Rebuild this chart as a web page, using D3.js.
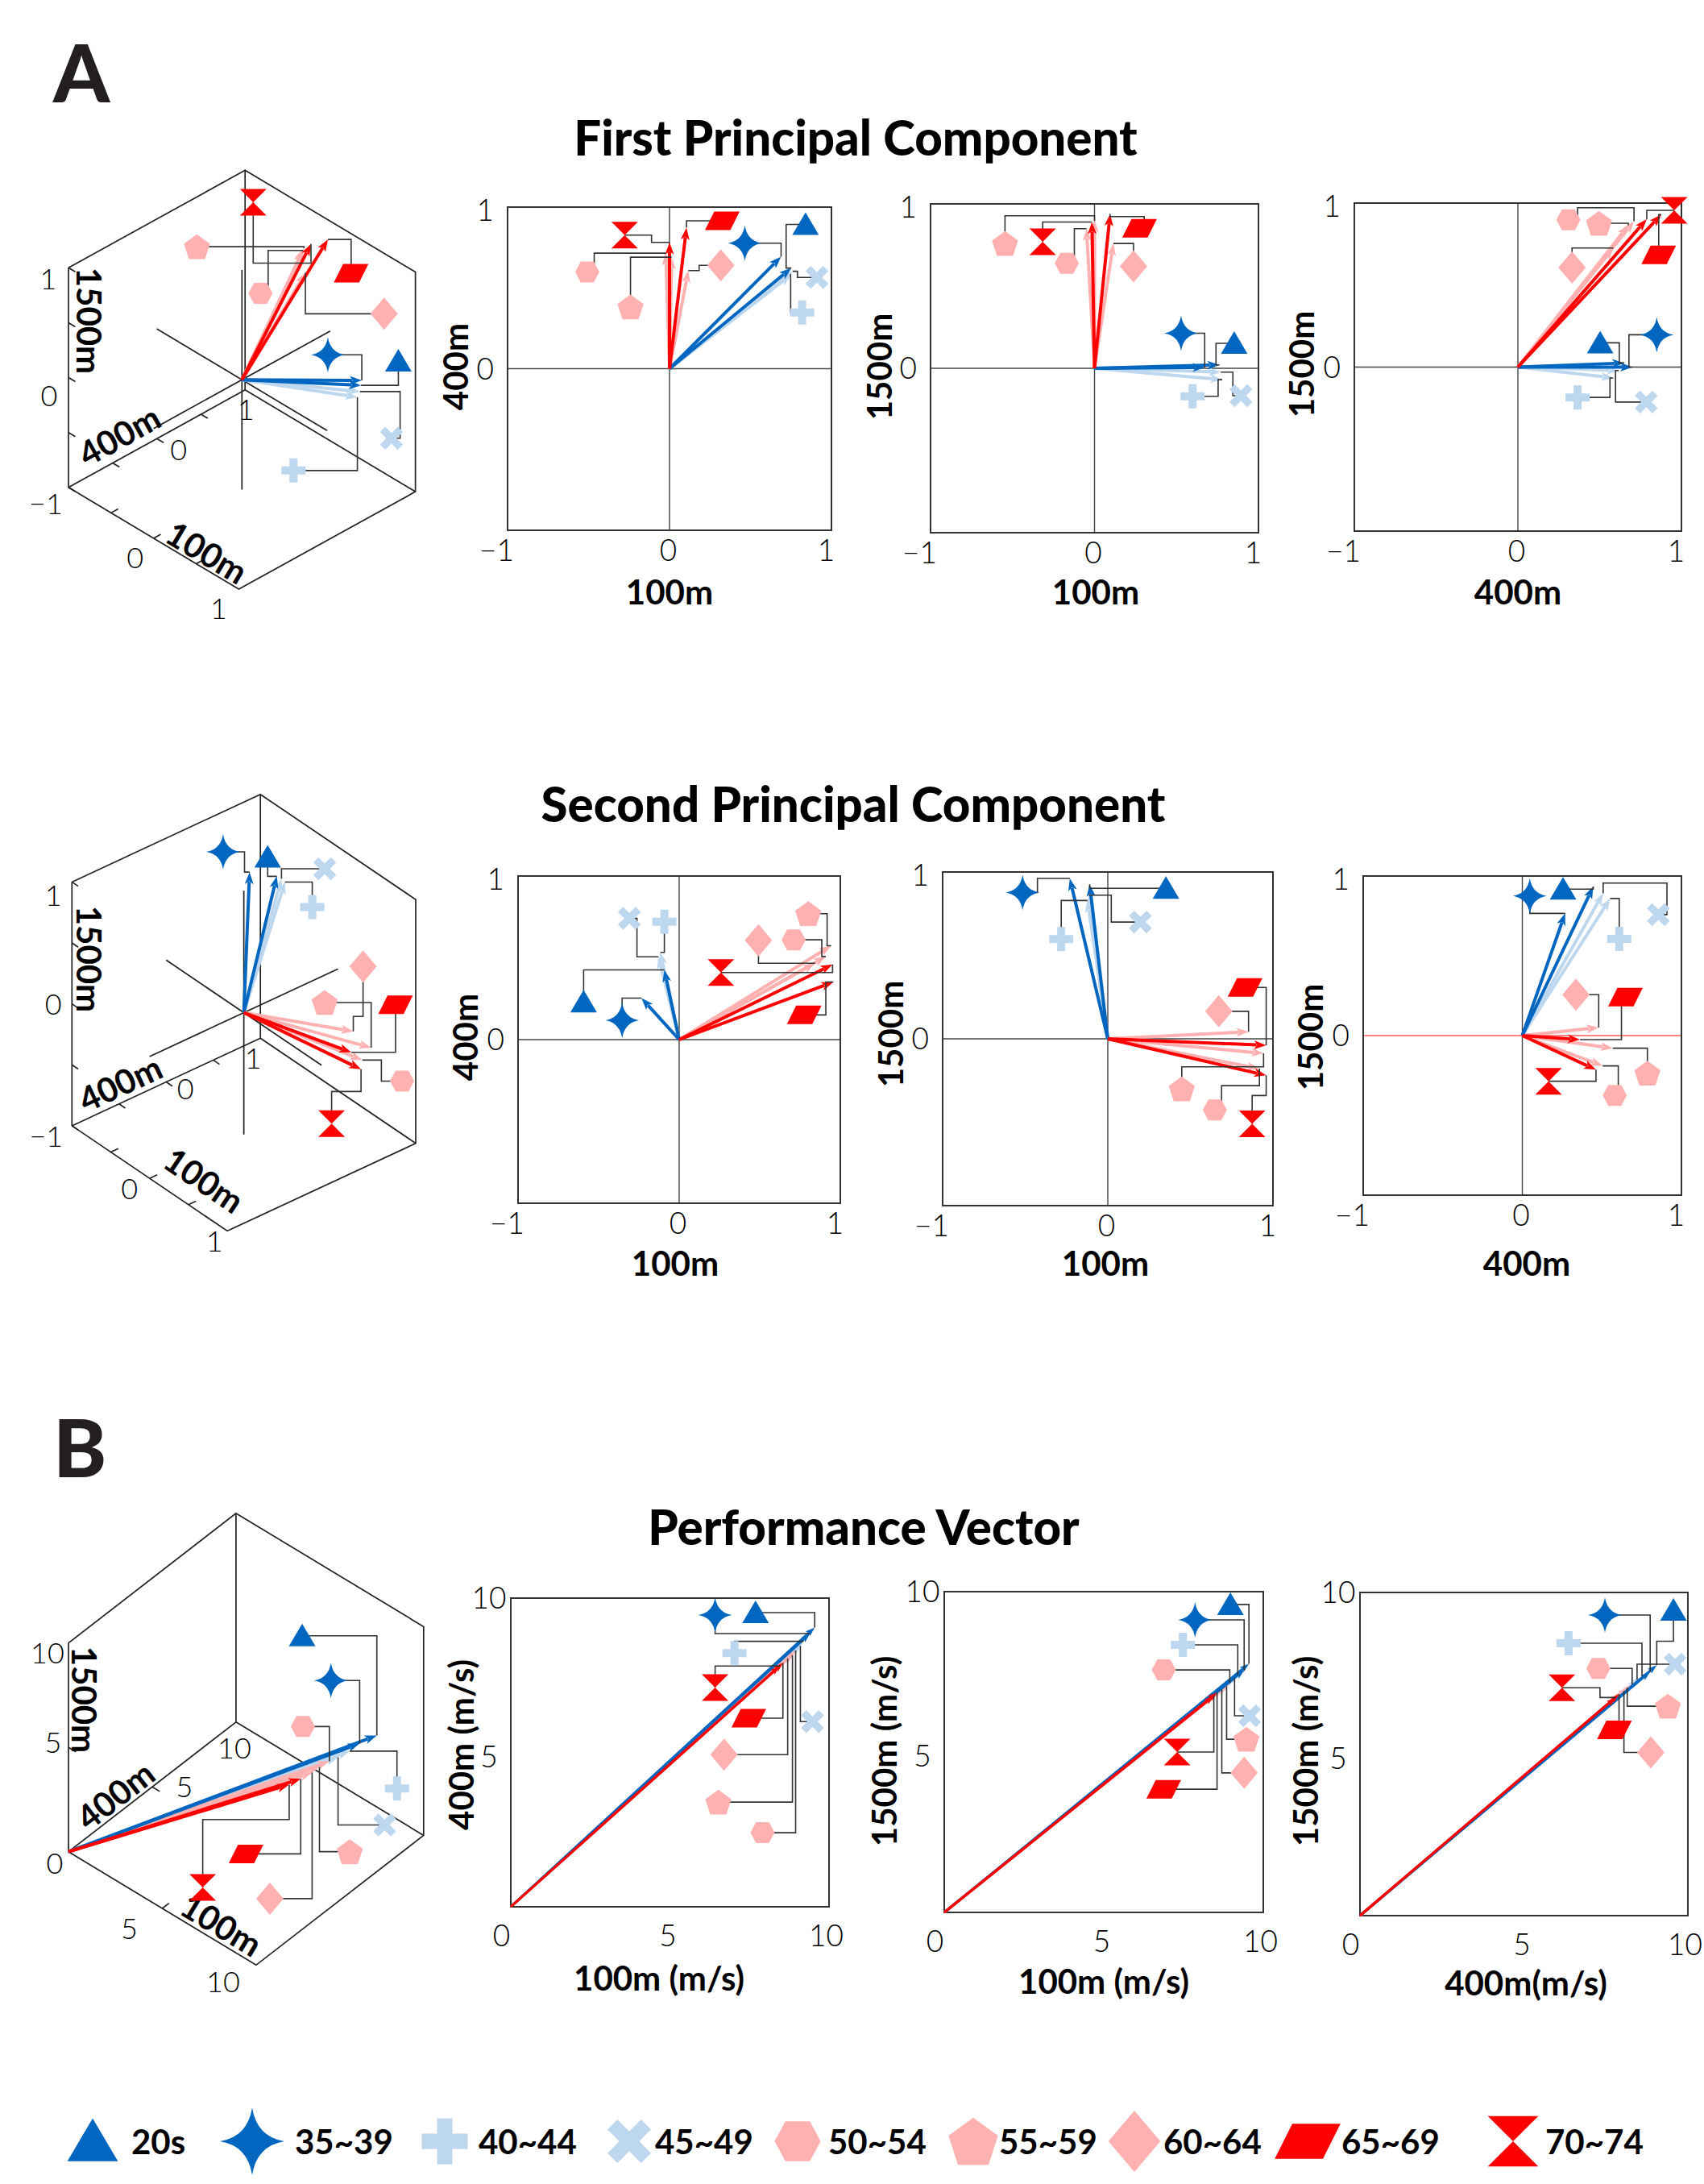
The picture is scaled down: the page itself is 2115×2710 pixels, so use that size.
<!DOCTYPE html>
<html><head><meta charset="utf-8">
<script src="https://d3js.org/d3.v7.min.js"></script>
<style>body{margin:0;background:#fff}</style>
</head><body>
<svg id="fig" width="2115" height="2710" xmlns="http://www.w3.org/2000/svg"></svg>
<script>
// ---------------- DATA ----------------
const groups = ["20s","35~39","40~44","45~49","50~54","55~59","60~64","65~69","70~74"];

// First principal component (loadings)
const pc1_100m_400m  = [[0.752,0.623],[0.689,0.693],[0.752,0.582],[0.761,0.603],[-0.023,0.715],[0.013,0.690],[0.116,0.607],[0.105,0.873],[0.000,0.782]];
const pc1_100m_1500m = [[0.762,0.021],[0.672,0.005],[0.779,-0.069],[0.770,-0.023],[-0.049,0.849],[0.000,0.898],[0.115,0.759],[0.095,0.939],[-0.016,0.890]];
const pc1_400m_1500m = [[0.650,0.025],[0.700,0.000],[0.583,-0.066],[0.617,-0.021],[0.710,0.890],[0.675,0.865],[0.583,0.726],[0.877,0.930],[0.788,0.902]];
const pc1_3d = [[0.752,0.623,0.021],[0.689,0.693,0.005],[0.752,0.582,-0.069],[0.761,0.603,-0.023],[-0.023,0.715,0.849],[0.013,0.690,0.898],[0.116,0.607,0.759],[0.105,0.873,0.939],[0.000,0.782,0.890]];

// Second principal component
const pc2_100m_400m  = [[-0.092,0.426],[-0.234,0.254],[-0.117,0.533],[-0.129,0.506],[0.910,0.508],[0.943,0.574],[0.843,0.467],[0.957,0.352],[0.952,0.459]];
const pc2_100m_1500m = [[-0.110,0.926],[-0.230,0.961],[-0.123,0.829],[-0.115,0.861],[0.918,-0.179],[0.943,-0.087],[0.852,0.042],[0.959,-0.039],[0.959,-0.219]];
const pc2_400m_1500m = [[0.446,0.934],[0.269,0.766],[0.552,0.859],[0.508,0.892],[0.505,-0.190],[0.569,-0.079],[0.480,0.050],[0.362,-0.025],[0.463,-0.214]];
const pc2_3d = [[-0.092,0.426,0.926],[-0.234,0.254,0.961],[-0.117,0.533,0.829],[-0.129,0.506,0.861],[0.910,0.508,-0.179],[0.943,0.574,-0.087],[0.843,0.467,0.042],[0.957,0.352,-0.039],[0.952,0.459,-0.219]];

// Performance vector (m/s)
const perf_100m  = [9.55,9.40,9.20,9.10,8.95,8.85,8.70,8.55,8.45];
const perf_400m  = [9.05,8.85,8.60,8.45,8.30,8.15,8.05,7.90,7.80];
const perf_1500m = [7.75,7.55,7.40,7.30,7.15,7.05,6.95,6.85,6.75];
// values as they appear in the 3D performance panel (100m, 400m, 1500m)
const perf_3d = [[8.90,8.44,5.16],[8.43,7.94,4.83],[8.17,7.64,4.51],[7.85,7.30,4.25],[7.61,7.05,4.08],[7.34,6.76,3.85],[7.11,6.58,3.56],[6.78,6.27,3.28],[6.45,5.95,3.02]];

const ticksPC = [-1,0,1];
const ticksPCy = [0,1];
const ticksPerf = [0,5,10];
const ticksPerfY = [5,10];

// ---------------- ANNOTATION PLACEMENT (marker anchor + elbow, in axis units) ----------------
const lab_pc1_a = [[0.84,0.893,0.72,null],[0.465,0.777,null,null],[0.819,0.348,0.748,null],[0.91,0.565,0.79,null],[-0.508,0.598,-0.465,null],[-0.241,0.382,-0.241,null],[0.317,0.64,0.183,null],[0.326,0.915,null,null],[-0.277,0.827,-0.111,null]];
const lab_pc1_b = [[0.852,0.152,0.741,null],[0.528,0.213,null,null],[0.598,-0.17,0.754,null],[0.893,-0.167,0.844,null],[-0.169,0.639,-0.123,null],[-0.546,0.759,-0.546,0.928],[0.238,0.62,0.238,null],[0.275,0.852,0.303,0.923],[-0.316,0.77,-0.316,null]];
const lab_pc1_c = [[0.503,0.148,0.62,null],[0.849,0.197,0.679,null],[0.365,-0.185,0.563,null],[0.785,-0.213,0.597,null],[0.309,0.898,0.365,0.972],[0.496,0.877,null,null],[0.331,0.607,0.331,null],[0.861,0.684,0.861,null],[0.956,0.956,null,null]];
const lab_pc2_a = [[-0.593,0.23,-0.593,null],[-0.354,0.118,-0.354,null],[-0.092,0.721,-0.092,null],[-0.309,0.741,-0.262,null],[0.71,0.61,0.885,null],[0.801,0.77,0.918,null],[0.492,0.607,0.492,null],[0.776,0.151,0.91,null],[0.259,0.41,null,null]];
const lab_pc2_b = [[0.352,0.902,null,null],[-0.516,0.877,-0.426,null],[-0.282,0.598,-0.282,null],[0.197,0.70,0.021,null],[0.648,-0.426,0.689,-0.281],[0.448,-0.30,0.448,-0.168],[0.672,0.165,null,null],[0.831,0.308,null,null],[0.874,-0.51,0.874,-0.34]];
const lab_pc2_c = [[0.256,0.918,null,null],[0.047,0.875,0.047,null],[0.609,0.606,0.609,null],[0.855,0.758,0.909,0.956],[0.581,-0.375,0.603,null],[0.786,-0.236,0.786,null],[0.337,0.256,null,null],[0.648,0.241,0.623,null],[0.165,-0.286,null,null]];
const lab_perf_a = [[7.69,9.53,null,null],[6.42,9.45,6.42,null],[7.03,8.22,7.03,null],[9.48,6.0,null,null],[7.91,2.40,null,null],[6.52,3.39,null,null],[6.70,4.93,null,null],[7.48,6.11,null,null],[6.42,7.10,6.42,null]];
const lab_perf_b = [[8.97,9.6,null,null],[7.86,9.12,null,null],[7.48,8.34,null,null],[9.57,6.13,null,null],[6.88,7.56,null,null],[9.47,5.40,null,null],[9.40,4.35,null,null],[6.88,3.84,null,null],[7.30,5.0,null,null]];
const lab_perf_c = [[9.56,9.45,9.56,8.49],[7.47,9.30,null,null],[6.36,8.43,null,null],[9.61,7.78,null,null],[7.27,7.65,null,null],[9.39,6.48,null,null],[8.87,5.05,null,null],[7.76,5.75,null,null],[6.16,7.05,7.32,null]];
// 3D panels: fractions of the panel's bounding box
const lab_pc1_3d = [[0.950,0.456,0.950,null],[0.747,0.441,null,null],[0.648,0.717,null,null],[0.930,0.640,0.955,null],[0.553,0.294,0.575,null],[0.370,0.183,null,null],[0.909,0.343,null,null],[0.814,0.246,0.814,null],[0.532,0.077,0.532,0.222]];
const lab_pc2_3d = [[0.567,0.139,0.567,null],[0.438,0.127,0.50,null],[0.696,0.254,0.696,null],[0.732,0.166,null,null],[0.956,0.655,0.896,null],[0.732,0.474,null,null],[0.843,0.391,0.843,0.506],[0.937,0.479,0.937,null],[0.752,0.753,0.752,0.679]];
const lab_perf_3d = [[0.658,0.271,null,null],[0.739,0.370,null,null],[0.925,0.609,0.925,null],[0.890,0.690,null,null],[0.660,0.472,null,null],[0.792,0.749,null,null],[0.567,0.853,null,null],[0.500,0.754,null,null],[0.378,0.828,0.378,0.678]];

// ---------------- STYLE ----------------
const groupShapes = ["triangle","star4","plus","cross","hexagon","pentagon","diamond","parallelogram","hourglass"];
const groupColors = ["#0066bf","#0066bf","#bdd7ee","#bdd7ee","#ffb1b1","#ffb1b1","#ffb1b1","#ff0000","#ff0000"];
const drawOrder = [2,3,4,5,6,0,1,7,8];
const FONT = "Lato, 'Open Sans', sans-serif";

const svg = d3.select("#fig");
svg.append("rect").attr("width",2115).attr("height",2710).attr("fill","#fff");

function poly(pts){ return "M" + pts.map(p => p[0].toFixed(2)+","+p[1].toFixed(2)).join("L") + "Z"; }
const plusPts = [[-5,-15],[5,-15],[5,-5],[15,-5],[15,5],[5,5],[5,15],[-5,15],[-5,5],[-15,5],[-15,-5],[-5,-5]];
const crossPts = [[-4.6,-15.5],[4.6,-15.5],[4.6,-4.6],[15.5,-4.6],[15.5,4.6],[4.6,4.6],[4.6,15.5],[-4.6,15.5],[-4.6,4.6],[-15.5,4.6],[-15.5,-4.6],[-4.6,-4.6]]
  .map(([a,b]) => [(a-b)*Math.SQRT1_2,(a+b)*Math.SQRT1_2]);
const pentPts = d3.range(5).map(k => { const a = (-90 + 72*k)*Math.PI/180; return [17*Math.cos(a), 17*Math.sin(a)+1.6]; });
const SHAPES = {
  triangle: "M0,-15L16.5,13L-16.5,13Z",
  star4: "M0,-22Q3,-3 21,0Q3,3 0,22Q-3,3 -21,0Q-3,-3 0,-22Z",
  plus: poly(plusPts),
  cross: poly(crossPts),
  hexagon: poly([[-15,0],[-8,-13],[8,-13],[15,0],[8,13],[-8,13]]),
  pentagon: poly(pentPts),
  diamond: poly([[0,-20],[17,0],[0,20],[-17,0]]),
  parallelogram: poly([[-10,-11.5],[21.5,-11.5],[10,11.5],[-21.5,11.5]]),
  hourglass: "M-16.5,-16.5L16.5,-16.5L0,0ZM0,0L16.5,16.5L-16.5,16.5Z"
};
function marker(g, i, x, y, s) {
  g.append("path").attr("d", SHAPES[groupShapes[i]])
    .attr("transform", `translate(${x},${y}) scale(${s||1})`)
    .attr("fill", groupColors[i]);
}
function arrow(g, p0, p1, color, w, hl, hw) {
  const dx = p1[0]-p0[0], dy = p1[1]-p0[1], L = Math.hypot(dx,dy);
  if (L < 1) return;
  const ux = dx/L, uy = dy/L;
  const b = [p1[0]-ux*hl, p1[1]-uy*hl];
  g.append("line").attr("x1",p0[0]).attr("y1",p0[1]).attr("x2",b[0]+ux*3).attr("y2",b[1]+uy*3)
    .attr("stroke",color).attr("stroke-width",w);
  g.append("path").attr("d", `M${p1[0]},${p1[1]}L${b[0]-uy*hw/2},${b[1]+ux*hw/2}L${b[0]+ux*hl*0.25},${b[1]+uy*hl*0.25}L${b[0]+uy*hw/2},${b[1]-ux*hw/2}Z`)
    .attr("fill",color);
}
function connector(g, m, k, t) {
  const kx = (k[0] == null) ? t[0] : k[0];
  const ky = (k[1] == null) ? t[1] : k[1];
  const pts = [[m[0],m[1]],[kx,m[1]],[kx,ky],[t[0],ky],[t[0],t[1]]];
  g.append("path").attr("d", d3.line()(pts)).attr("fill","none").attr("stroke","#333").attr("stroke-width",1.6);
}
function text(g, str, x, y, o) {
  o = o || {};
  const t = g.append("text").text(str).attr("x",x).attr("y",y)
    .attr("font-family",FONT).attr("font-size",o.size||42).attr("font-weight",o.weight||700)
    .attr("fill",o.fill||"#000").attr("text-anchor",o.anchor||"middle");
  if (o.central) t.attr("dominant-baseline","central");
  if (o.rot != null) t.attr("transform",`rotate(${o.rot},${x},${y})`);
  return t;
}

// ---------------- 2D PANEL ----------------
function panel2D(c) {
  const g = svg.append("g");
  const [x0,x1,y0,y1] = c.box;
  const x = d3.scaleLinear().domain(c.xd).range([x0,x1]);
  const y = d3.scaleLinear().domain(c.yd).range([y1,y0]);
  if (c.zero) {
    g.append("line").attr("x1",x0).attr("x2",x1).attr("y1",y(0)).attr("y2",y(0)).attr("stroke",c.hZero||"#444").attr("stroke-width",1.4);
    g.append("line").attr("x1",x(0)).attr("x2",x(0)).attr("y1",y0).attr("y2",y1).attr("stroke","#444").attr("stroke-width",1.4);
  }
  g.append("rect").attr("x",x0).attr("y",y0).attr("width",x1-x0).attr("height",y1-y0)
    .attr("fill","none").attr("stroke","#333").attr("stroke-width",2);
  // axes (labels only)
  const ax = g.append("g").attr("transform",`translate(0,${y1})`)
    .call(d3.axisBottom(x).tickValues(c.xt).tickSize(0).tickFormat(d3.format("d")));
  ax.select(".domain").remove();
  ax.attr("font-family",FONT).attr("font-size",37);
  ax.selectAll("text").attr("y",c.xOff).attr("dy","0.35em").attr("dx",d => c.xdx[d] || 0)
    .attr("fill","#000").attr("font-weight",300);
  const ay = g.append("g").attr("transform",`translate(${x0},0)`)
    .call(d3.axisLeft(y).tickValues(c.yt).tickSize(0).tickFormat(d3.format("d")));
  ay.select(".domain").remove();
  ay.attr("font-family",FONT).attr("font-size",37);
  ay.selectAll("text").attr("x",c.yX).attr("text-anchor",c.yAnchor).attr("dy","0.35em")
    .attr("y",d => c.ydy[d] || 0).attr("fill","#000").attr("font-weight",300);
  // titles
  text(g, c.xTitle, c.xTitlePos[0], c.xTitlePos[1], {central:true});
  text(g, c.yTitle, c.yTitlePos[0], c.yTitlePos[1], {central:true, rot:-90});
  // arrows
  const O = [x(0), y(0)];
  const tips = c.data.map(d => [x(d[0]), y(d[1])]);
  drawOrder.forEach(i => arrow(g, O, tips[i], groupColors[i], c.aw, c.ahl, c.ahw));
  // connectors + markers
  c.labels.forEach((L,i) => connector(g, [x(L[0]), y(L[1])], [L[2]==null?null:x(L[2]), L[3]==null?null:y(L[3])], tips[i]));
  c.labels.forEach((L,i) => marker(g, i, x(L[0]), y(L[1]), 1));
}

const pcCommon = { xd:[-1,1], yd:[-1,1], xt:ticksPC, yt:ticksPCy, zero:true, xOff:25,
  xdx:{"-1":-14,"0":-2,"1":-7}, yX:-17, yAnchor:"end", ydy:{"1":4,"0":0}, aw:4, ahl:15, ahw:11 };
const perfCommon = { xd:[0,10], yd:[0,10], xt:ticksPerf, yt:ticksPerfY, zero:false, xOff:36,
  xdx:{"0":-12,"5":-3,"10":-4}, yX:-27, yAnchor:"middle", ydy:{"10":0,"5":5}, aw:3, ahl:12, ahw:8 };

panel2D(Object.assign({}, pcCommon, {box:[630,1032,257,658], data:pc1_100m_400m, labels:lab_pc1_a,
  xTitle:"100m", xTitlePos:[831,734], yTitle:"400m", yTitlePos:[565,455]}));
panel2D(Object.assign({}, pcCommon, {box:[1155,1562,253,661], data:pc1_100m_1500m, labels:lab_pc1_b,
  xTitle:"100m", xTitlePos:[1360,734], yTitle:"1500m", yTitlePos:[1091,455]}));
panel2D(Object.assign({}, pcCommon, {box:[1681,2087,252,659], data:pc1_400m_1500m, labels:lab_pc1_c,
  xTitle:"400m", xTitlePos:[1884,734], yTitle:"1500m", yTitlePos:[1615,452]}));

panel2D(Object.assign({}, pcCommon, {box:[643,1043,1087,1493], data:pc2_100m_400m, labels:lab_pc2_a,
  xTitle:"100m", xTitlePos:[838,1567], yTitle:"400m", yTitlePos:[577,1287]}));
panel2D(Object.assign({}, pcCommon, {box:[1170,1580,1082,1496], data:pc2_100m_1500m, labels:lab_pc2_b,
  xTitle:"100m", xTitlePos:[1372,1567], yTitle:"1500m", yTitlePos:[1105,1283]}));
panel2D(Object.assign({}, pcCommon, {box:[1692,2087,1087,1483], data:pc2_400m_1500m, labels:lab_pc2_c,
  xTitle:"400m", xTitlePos:[1895,1567], yTitle:"1500m", yTitlePos:[1626,1287], hZero:"#ff5a5a"}));

panel2D(Object.assign({}, perfCommon, {box:[634,1029,1983,2366], data:d3.zip(perf_100m, perf_400m), labels:lab_perf_a,
  xTitle:"100m (m/s)", xTitlePos:[818,2454], yTitle:"400m (m/s)", yTitlePos:[572,2165]}));
panel2D(Object.assign({}, perfCommon, {box:[1172,1568,1975,2373], data:d3.zip(perf_100m, perf_1500m), labels:lab_perf_b,
  xTitle:"100m (m/s)", xTitlePos:[1370,2458], yTitle:"1500m (m/s)", yTitlePos:[1097,2173]}));
panel2D(Object.assign({}, perfCommon, {box:[1688,2095,1976,2377], data:d3.zip(perf_400m, perf_1500m), labels:lab_perf_c,
  xTitle:"400m(m/s)", xTitlePos:[1894,2460], yTitle:"1500m (m/s)", yTitlePos:[1620,2173]}));

// ---------------- 3D PANEL ----------------
function panel3D(c) {
  const g = svg.append("g");
  const s = d3.scaleLinear().domain(c.domain).range([0,1]);
  const P = p => {
    const t = p.map(v => s(v));
    return [c.LL[0] + t[0]*c.E[0][0] + t[1]*c.E[1][0] + t[2]*c.E[2][0],
            c.LL[1] + t[0]*c.E[0][1] + t[1]*c.E[1][1] + t[2]*c.E[2][1]];
  };
  const lo = c.domain[0], hi = c.domain[1], span = hi - lo;
  const ln = d3.line();
  const stroke = sel => sel.attr("fill","none").attr("stroke","#222").attr("stroke-width",1.7);
  g.append("path").attr("d", ln([[lo,lo,hi],[lo,hi,hi],[hi,hi,hi],[hi,hi,lo],[hi,lo,lo],[lo,lo,lo],[lo,lo,hi]].map(P))).call(stroke);
  const C = [lo,hi,lo];
  [[lo,lo,lo],[hi,hi,lo],[lo,hi,hi]].forEach(q => g.append("path").attr("d", ln([P(C),P(q)])).call(stroke));
  if (c.axes) {
    [[[lo,0,0],[hi,0,0]],[[0,lo,0],[0,hi,0]],[[0,0,lo],[0,0,hi]]].forEach(pr => g.append("path").attr("d", ln(pr.map(P))).call(stroke));
  }
  // tick marks
  const tl = 0.04*span;
  c.tz.forEach(v => g.append("path").attr("d", ln([P([lo,lo,v]),P([lo+tl,lo,v])])).call(stroke));
  c.ty.forEach(v => g.append("path").attr("d", ln([P([lo,v,lo]),P([lo+tl,v,lo])])).call(stroke));
  c.tx.forEach(v => g.append("path").attr("d", ln([P([v,lo,lo]),P([v,lo+tl,lo])])).call(stroke));
  // tick labels
  c.labels3.forEach(([axis, v, str, dx, dy]) => {
    const p = axis === 0 ? P([v,lo,lo]) : axis === 1 ? P([lo,v,lo]) : P([lo,lo,v]);
    text(g, str, p[0]+dx, p[1]+dy, {size:36, weight:300, central:true});
  });
  // axis titles
  const ang = e => Math.atan2(e[1], e[0]) * 180 / Math.PI;
  text(g, "100m", c.t100[0], c.t100[1], {central:true, rot:ang(c.E[0])});
  text(g, "400m", c.t400[0], c.t400[1], {central:true, rot:ang(c.E[1])});
  text(g, "1500m", c.t1500[0], c.t1500[1], {central:true, rot:90});
  // arrows
  const O = P([0,0,0]);
  const tips = c.data.map(P);
  drawOrder.forEach(i => arrow(g, O, tips[i], groupColors[i], 4, 15, 11));
  const fx = d3.scaleLinear().domain([0,1]).range([c.bbox[0], c.bbox[1]]);
  const fy = d3.scaleLinear().domain([0,1]).range([c.bbox[2], c.bbox[3]]);
  c.labels.forEach((L,i) => connector(g, [fx(L[0]), fy(L[1])], [L[2]==null?null:fx(L[2]), L[3]==null?null:fy(L[3])], tips[i]));
  c.labels.forEach((L,i) => marker(g, i, fx(L[0]), fy(L[1]), 1));
}
const M = "\u22121";
panel3D({ domain:[-1,1], LL:[85,604.8], E:[[211.4,126.3],[219.2,-121],[0,-272.5]], axes:true,
  tz:[-1,-0.5,0,0.5,1], ty:[-0.5,0,0.5], tx:[-0.5,0,0.5],
  labels3:[[2,1,"1",-25,13],[2,0,"0",-24,21],[2,-1,M,-28,19],[1,0,"0",27,13],[1,1,"1",1,23],[0,0,"0",-23,23],[0,1,"1",-25,23]],
  t100:[257,685], t400:[148,540], t1500:[110.7,398],
  data:pc1_3d, labels:lab_pc1_3d, bbox:[85,516,211,731] });
panel3D({ domain:[-1,1], LL:[89.3,1396.9], E:[[192.8,130.5],[233.9,-108.7],[0,-302.5]], axes:true,
  tz:[-1,-0.5,0,0.5,1], ty:[-0.5,0,0.5], tx:[-0.5,0,0.5],
  labels3:[[2,1,"1",-23,16],[2,0,"0",-23,-1],[2,-1,M,-32,12],[1,0,"0",24,7],[1,1,"1",-9,24],[0,0,"0",-25,12],[0,1,"1",-16,12]],
  t100:[253.6,1464], t400:[149,1344], t1500:[110.7,1190],
  data:pc2_3d, labels:lab_pc2_3d, bbox:[89,518,988.5,1527.4] });
panel3D({ domain:[0,10], LL:[85,2297.7], E:[[232.9,140.6],[207.9,-160.9],[0,-259]], axes:false,
  tz:[5], ty:[5], tx:[5],
  labels3:[[2,10,"10",-26,11],[2,5,"5",-19,-7],[2,0,"0",-17,13],[1,5,"5",40,-1],[1,10,"10",-2,31],[0,5,"5",-41,24],[0,10,"10",-41,20]],
  t100:[275,2388], t400:[142.9,2227.4], t1500:[105.4,2109],
  data:perf_3d, labels:lab_perf_3d, bbox:[85,525.8,1877.8,2438.3] });

// ---------------- TITLES ----------------
text(svg, "A", 66, 127, {size:100, weight:900, anchor:"start", fill:"#231f20"});
text(svg, "B", 66, 1833, {size:100, weight:900, anchor:"start", fill:"#231f20"});
text(svg, "First Principal Component", 1062, 193, {size:60, weight:900});
text(svg, "Second Principal Component", 1059, 1020, {size:60, weight:900});
text(svg, "Performance Vector", 1072, 1917, {size:60, weight:900});

// ---------------- LEGEND ----------------
const legendX = [115,313,552,781,990,1208,1408,1623,1878];
const legendTextX = [163,366,594,813,1028,1240,1444,1665,1918];
const lg = svg.append("g");
groups.forEach((name,i) => {
  marker(lg, i, legendX[i], 2657, 1.9);
  text(lg, name, legendTextX[i], 2673, {size:42, anchor:"start"});
});
</script>
</body></html>
